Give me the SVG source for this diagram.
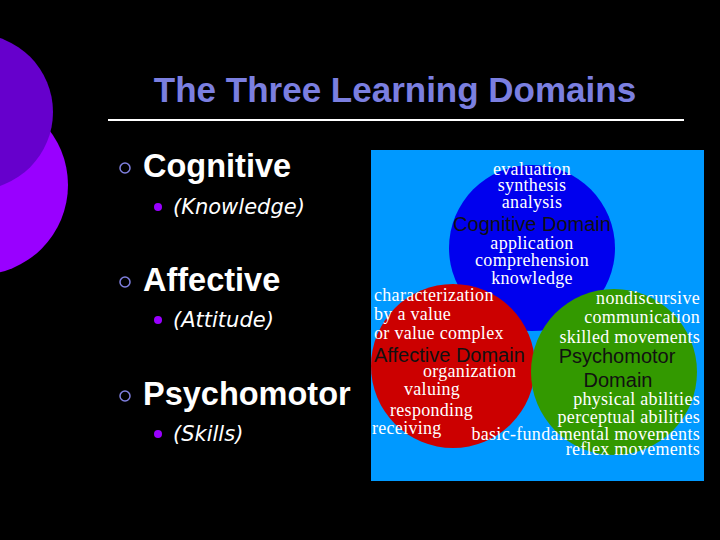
<svg xmlns="http://www.w3.org/2000/svg" width="720" height="540" viewBox="0 0 720 540">
<style>
.h{font-family:"Liberation Sans",Arial,sans-serif;font-weight:bold;fill:#fff;font-size:32.5px}
.s{font-family:Verdana,"DejaVu Sans",sans-serif;font-style:italic;fill:#fff;font-size:21px}
.w{font-family:"Liberation Serif","Times New Roman",serif;fill:#fff;font-size:18px;letter-spacing:0.3px}
.d{font-family:"Liberation Sans",Arial,sans-serif;fill:#111;font-size:20px}
.m{text-anchor:middle}.e{text-anchor:end}
</style>
<rect width="720" height="540" fill="#000"/>
<circle cx="-22" cy="185" r="90" fill="#9900ff"/>
<circle cx="-25" cy="112" r="78" fill="#6600cc"/>
<text x="395" y="102" class="m" font-family="Liberation Sans,Arial,sans-serif" font-weight="bold" font-size="35" fill="#7b7fe0">The Three Learning Domains</text>
<line x1="108" y1="120" x2="684" y2="120" stroke="#fff" stroke-width="2"/>
<g id="list">
<circle cx="125" cy="168" r="5" fill="none" stroke="#8080e0" stroke-width="1.5"/>
<text x="143" y="177" class="h">Cognitive</text>
<circle cx="158" cy="207" r="4" fill="#9900ff"/>
<text x="173" y="214" class="s">(Knowledge)</text>
<circle cx="125" cy="282" r="5" fill="none" stroke="#8080e0" stroke-width="1.5"/>
<text x="143" y="291" class="h">Affective</text>
<circle cx="158" cy="320" r="4" fill="#9900ff"/>
<text x="173" y="327" class="s">(Attitude)</text>
<circle cx="125" cy="396" r="5" fill="none" stroke="#8080e0" stroke-width="1.5"/>
<text x="143" y="405" class="h">Psychomotor</text>
<circle cx="158" cy="434" r="4" fill="#9900ff"/>
<text x="173" y="441" class="s">(Skills)</text>
</g>
<g id="picture">
<rect x="371" y="150" width="333" height="331" fill="#0099ff"/>
<circle id="cognitive" cx="532" cy="248" r="83" fill="#0000ee"/>
<circle id="affective" cx="453" cy="366" r="82" fill="#cc0000"/>
<circle id="psychomotor" cx="614" cy="372" r="83" fill="#339900"/>
<g class="w m">
<text x="532" y="175">evaluation</text>
<text x="532" y="191">synthesis</text>
<text x="532" y="208">analysis</text>
<text x="532" y="249">application</text>
<text x="532" y="266">comprehension</text>
<text x="532" y="284">knowledge</text>
</g>
<text x="532" y="231" class="d m">Cognitive Domain</text>
<g class="w">
<text x="374" y="301">characterization</text>
<text x="374" y="320">by a value</text>
<text x="374" y="339">or value complex</text>
<text x="423" y="377">organization</text>
<text x="404" y="395">valuing</text>
<text x="390" y="416">responding</text>
<text x="372" y="434">receiving</text>
</g>
<text x="374" y="362" class="d">Affective Domain</text>
<g class="w e">
<text x="700" y="304">nondiscursive</text>
<text x="700" y="323">communication</text>
<text x="700" y="343">skilled movements</text>
<text x="700" y="405">physical abilities</text>
<text x="700" y="423">perceptual abilities</text>
<text x="700" y="440">basic-fundamental movements</text>
<text x="700" y="455">reflex movements</text>
</g>
<text x="617" y="363" class="d m">Psychomotor</text>
<text x="618" y="387" class="d m">Domain</text>
</g>
</svg>
